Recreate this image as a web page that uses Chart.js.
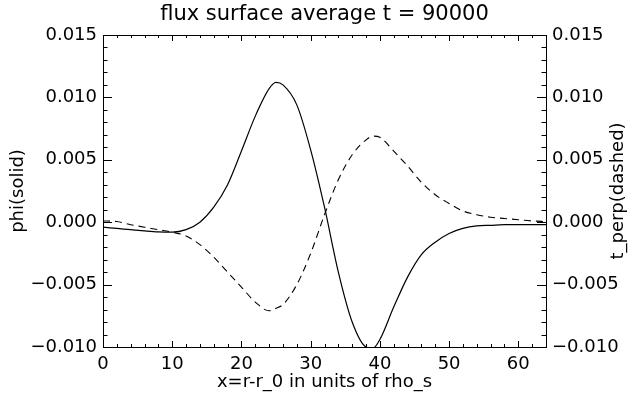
<!DOCTYPE html>
<html><head><meta charset="utf-8">
<script src="https://cdn.jsdelivr.net/npm/chart.js@4/dist/chart.umd.min.js"></script>
<style>html,body{margin:0;padding:0;background:#fff}</style>
</head><body>
<canvas id="c" width="634" height="395"></canvas>
<script>
const xValues     = [0, 2, 4, 6, 8, 10, 12, 14, 16, 18, 20, 22, 24, 25, 26, 28, 30, 32, 34, 36, 38, 39, 40, 42, 44, 46, 48, 50, 52, 54, 56, 58, 60, 62, 64];
const phiSolid    = [-0.0004, -0.0005, -0.0006, -0.0007, -0.00078, -0.0008, -0.0006, 0.0000, 0.0012, 0.0030, 0.0057, 0.0085, 0.0107, 0.0112, 0.0110, 0.0094, 0.0058, 0.0012, -0.0040, -0.0080, -0.0100, -0.0101, -0.0094, -0.0068, -0.0044, -0.0026, -0.0016, -0.0009, -0.0005, -0.0003, -0.00025, -0.0002, -0.0002, -0.0002, -0.0002];
const tPerpDashed = [0.0001, 0.00005, -0.0002, -0.0004, -0.0006, -0.0008, -0.0011, -0.0018, -0.0028, -0.0040, -0.0052, -0.0064, -0.0071, -0.0069, -0.0066, -0.0050, -0.0025, 0.0006, 0.0034, 0.0054, 0.0066, 0.0069, 0.0068, 0.0057, 0.0045, 0.0032, 0.0022, 0.0015, 0.0009, 0.0006, 0.0004, 0.0003, 0.0002, 0.0001, 0.00005];
const xTickValues = [0, 10, 20, 30, 40, 50, 60];
const xTickLabels = ['0', '10', '20', '30', '40', '50', '60'];
const yTickValues = [-0.010, -0.005, 0.000, 0.005, 0.010, 0.015];
const yTickLabels = ['\u22120.010', '\u22120.005', '0.000', '0.005', '0.010', '0.015'];
const titleText = 'flux surface average t = 90000';
const xTitle = 'x=r-r_0 in units of rho_s';
const yLeftTitle = 'phi(solid)';
const yRightTitle = 't_perp(dashed)';

const FONT = "'DejaVu Sans', sans-serif";
const fnt = {family: FONT, size: 18, weight: 'normal'};

const framePlugin = {
  id: 'frameTicks',
  afterDatasetsDraw(chart) {
    const ctx = chart.ctx, ca = chart.chartArea;
    const xs = chart.scales.x, ys = chart.scales.y;
    ctx.save();
    ctx.strokeStyle = '#000';
    ctx.lineWidth = 1;
    ctx.strokeRect(Math.round(ca.left) + 0.5, Math.round(ca.top) + 0.5, Math.round(ca.right - ca.left), Math.round(ca.bottom - ca.top));
    ctx.beginPath();
    for (let i = 0; i <= 32; i++) {
      const v = i * 2;
      const px = Math.round(xs.getPixelForValue(v)) + 0.5;
      const len = (v % 10 === 0) ? 6 : 3;
      ctx.moveTo(px, ca.bottom); ctx.lineTo(px, ca.bottom - len);
      ctx.moveTo(px, ca.top); ctx.lineTo(px, ca.top + len);
    }
    for (let i = 0; i <= 25; i++) {
      const v = -0.010 + i * 0.001;
      const py = Math.round(ys.getPixelForValue(v)) + 0.5;
      const len = (i % 5 === 0) ? 9 : 4.5;
      ctx.moveTo(ca.left, py); ctx.lineTo(ca.left + len, py);
      ctx.moveTo(ca.right, py); ctx.lineTo(ca.right - len, py);
    }
    ctx.stroke();
    ctx.fillStyle = '#000';
    ctx.font = "18px " + FONT;
    ctx.textAlign = 'center';
    ctx.textBaseline = 'middle';
    ctx.translate(618, (ca.top + ca.bottom) / 2);
    ctx.rotate(-Math.PI / 2);
    ctx.fillText(yRightTitle, 0, 0);
    ctx.restore();
  }
};

new Chart(document.getElementById('c'), {
  type: 'line',
  data: {
    datasets: [
      {
        label: yLeftTitle,
        data: xValues.map((x, i) => ({x: x, y: phiSolid[i]})),
        borderColor: '#000', borderWidth: 1.2, pointRadius: 0,
        cubicInterpolationMode: 'monotone', yAxisID: 'y', fill: false
      },
      {
        label: yRightTitle,
        data: xValues.map((x, i) => ({x: x, y: tPerpDashed[i]})),
        borderColor: '#000', borderWidth: 1.1, pointRadius: 0, borderDash: [7, 5],
        cubicInterpolationMode: 'monotone', yAxisID: 'y2', fill: false
      }
    ]
  },
  options: {
    responsive: false,
    animation: false,
    devicePixelRatio: 1,
    layout: {padding: 0},
    plugins: {
      legend: {display: false},
      tooltip: {enabled: false},
      title: {
        display: true, text: titleText, color: '#000',
        font: {family: FONT, size: 21, weight: 'normal'},
        fullSize: false, padding: {top: 2, bottom: 7.8}
      }
    },
    scales: {
      x: {
        type: 'linear', position: 'bottom', min: 0, max: 64,
        grid: {display: false, drawTicks: false}, border: {display: false},
        afterBuildTicks: s => { s.ticks = xTickValues.map(v => ({value: v})); },
        afterFit: s => { s.height = 48; },
        ticks: {color: '#000', font: fnt, padding: 7, maxRotation: 0, autoSkip: false,
          callback: (v, i) => xTickLabels[i]},
        title: {display: true, text: xTitle, color: '#000', font: fnt, padding: {top: 0, bottom: 2}}
      },
      y: {
        type: 'linear', position: 'left', min: -0.010, max: 0.015,
        grid: {display: false, drawTicks: false}, border: {display: false},
        afterBuildTicks: s => { s.ticks = yTickValues.map(v => ({value: v})); },
        afterFit: s => { s.width = 103; },
        ticks: {color: '#000', font: fnt, padding: 6, autoSkip: false,
          callback: (v, i) => yTickLabels[i]},
        title: {display: true, text: yLeftTitle, color: '#000', font: fnt, padding: {top: 8, bottom: 0}}
      },
      y2: {
        type: 'linear', position: 'right', min: -0.010, max: 0.015,
        grid: {display: false, drawTicks: false}, border: {display: false},
        afterBuildTicks: s => { s.ticks = yTickValues.map(v => ({value: v})); },
        afterFit: s => { s.width = 88; },
        ticks: {color: '#000', font: fnt, padding: 6, autoSkip: false,
          callback: (v, i) => yTickLabels[i]},
        title: {display: false}
      }
    }
  },
  plugins: [framePlugin]
});
</script>
</body></html>
